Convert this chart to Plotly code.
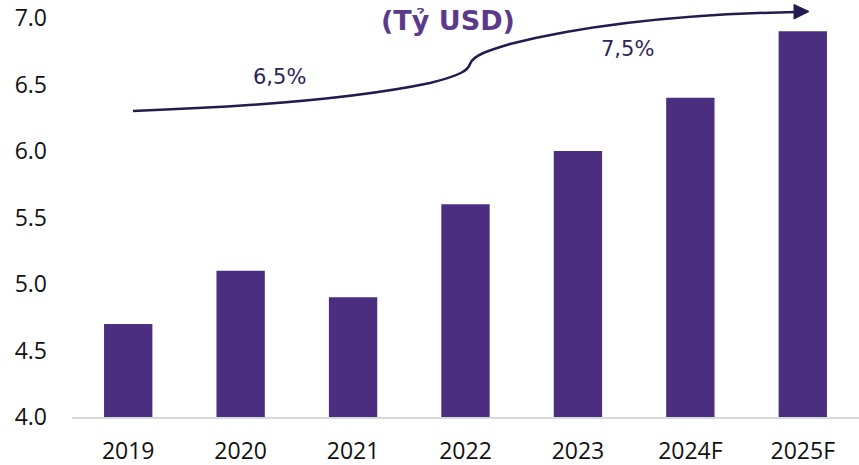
import plotly.graph_objects as go

years = ["2019", "2020", "2021", "2022", "2023", "2024F", "2025F"]
values = [4.7, 5.1, 4.9, 5.6, 6.0, 6.4, 6.9]
y_ticks = [4.0, 4.5, 5.0, 5.5, 6.0, 6.5, 7.0]
growth_labels = ["6,5%", "7,5%"]
title_text = "(Tỷ USD)"

W, H = 859, 465
L, R, T, B = 72, 0, 18, 48
pw, ph = W - L - R, H - T - B

def px(x):
    return (x - L) / pw

def py(y):
    return (H - B - y) / ph

fig = go.Figure()
fig.add_trace(go.Bar(x=years, y=values, marker_color="#4b2e80", marker_line_width=0,
                     hoverinfo="skip"))

# curved arrow (decoration) in paper coordinates
pts = [
    ("M", [(133, 111)]),
    ("Q", [(330, 104), (430, 83)]),
    ("C", [(462, 75), (468, 70), (470, 64)]),
    ("C", [(473, 55), (490, 50), (510, 44)]),
    ("C", [(590, 24), (690, 14), (796, 12)]),
]
path = ""
for cmd, ps in pts:
    path += cmd + " " + " ".join(f"{px(a):.5f},{py(b):.5f}" for a, b in ps) + " "
fig.add_shape(type="path", path=path.strip(), xref="paper", yref="paper",
              line=dict(color="#231a4f", width=2.5))
head = f"M {px(794):.5f},{py(4.5):.5f} L {px(809):.5f},{py(11.5):.5f} L {px(794):.5f},{py(19):.5f} Z"
fig.add_shape(type="path", path=head, xref="paper", yref="paper",
              line=dict(color="#231a4f", width=1), fillcolor="#231a4f")

for txt, (ax, ay) in zip(growth_labels, [(279, 77), (627, 49)]):
    fig.add_annotation(x=px(ax), y=py(ay), xref="paper", yref="paper", text=txt,
                       xanchor="center", yanchor="middle", showarrow=False,
                       font=dict(family="DejaVu Sans", size=21, color="#2d2658"))
fig.add_annotation(x=px(448), y=py(20), xref="paper", yref="paper", text=f"<b>{title_text}</b>",
                   xanchor="center", yanchor="middle", showarrow=False,
                   font=dict(family="DejaVu Sans", size=27, color="#5b3a8c"))

fig.update_layout(
    width=W, height=H,
    margin=dict(l=L, r=R, t=T, b=B),
    plot_bgcolor="white", paper_bgcolor="white",
    bargap=0.57,
    showlegend=False,
    font=dict(family="Open Sans", size=23, color="#111111"),
)
fig.update_xaxes(showline=True, linecolor="#d9d9d9", linewidth=2, showgrid=False,
                 ticks="", ticklabelstandoff=12, tickfont=dict(size=23), automargin=False)
fig.update_yaxes(range=[4.0, 7.0], tickvals=y_ticks, ticktext=[f"{v:.1f}" for v in y_ticks],
                 showgrid=False, zeroline=False, showline=False, ticks="",
                 ticklabelstandoff=24, tickfont=dict(size=23), automargin=False)

fig.write_html("out.html", post_script="document.body.style.margin='0';",
               config={"displayModeBar": False})
